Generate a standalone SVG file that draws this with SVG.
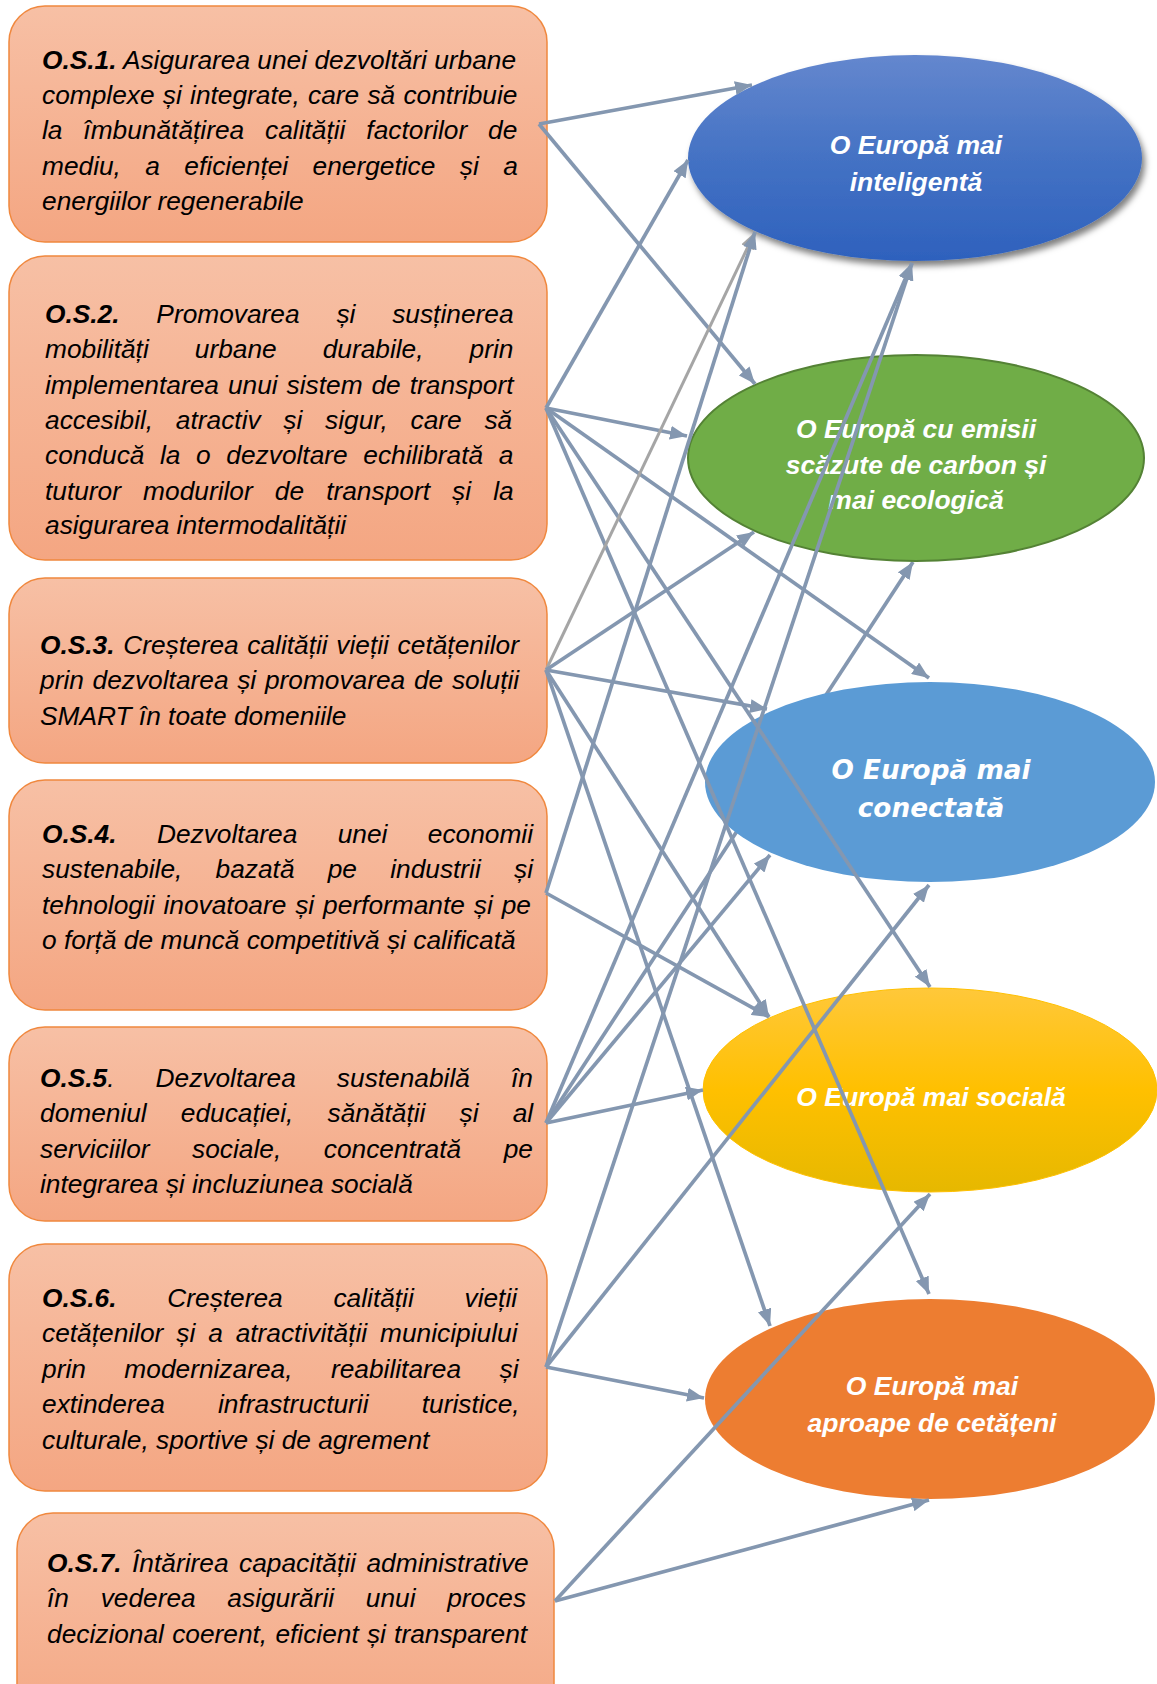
<svg xmlns="http://www.w3.org/2000/svg" width="1157" height="1684" viewBox="0 0 1157 1684">
<style>
.box{fill:url(#gBox);stroke:#F0883E;stroke-width:1.5}
.t{font-family:"Liberation Sans",Arial,sans-serif;font-size:26.3px;font-style:italic;fill:#000}
.b{font-weight:bold}
.e{font-family:"Liberation Sans",Arial,sans-serif;font-size:26.5px;font-style:italic;font-weight:bold;fill:#fff;text-anchor:middle}
.v{font-family:"DejaVu Sans",Verdana,sans-serif;font-size:26.3px;font-style:italic;font-weight:bold;fill:#fff;text-anchor:middle}
.c{stroke:#8497B0;stroke-width:3.7;fill:none;marker-end:url(#arr)}
.g{stroke:#A5A5A5;stroke-width:3;fill:none;marker-end:url(#arrg)}
</style>
<defs>
<linearGradient id="gBox" x1="0" y1="0" x2="0" y2="1">
<stop offset="0" stop-color="#F7C0A5"/><stop offset="1" stop-color="#F4A682"/>
</linearGradient>
<linearGradient id="gE1" x1="0" y1="0" x2="0" y2="1">
<stop offset="0" stop-color="#6487CE"/><stop offset="0.5" stop-color="#4472C4"/><stop offset="1" stop-color="#2E61BD"/>
</linearGradient>
<linearGradient id="gE4" x1="0" y1="0" x2="0" y2="1">
<stop offset="0" stop-color="#FFC83A"/><stop offset="0.5" stop-color="#FFC000"/><stop offset="1" stop-color="#E6B800"/>
</linearGradient>
<filter id="sh" x="-10%" y="-10%" width="125%" height="130%">
<feDropShadow dx="3" dy="5" stdDeviation="3" flood-color="#000" flood-opacity="0.5"/>
</filter>
<marker id="arr" markerUnits="userSpaceOnUse" markerWidth="17" markerHeight="14" viewBox="0 0 17 14" refX="17" refY="7" orient="auto">
<path d="M0,0 L17,7 L0,14 z" fill="#8497B0"/>
</marker>
<marker id="arrg" markerUnits="userSpaceOnUse" markerWidth="17" markerHeight="14" viewBox="0 0 17 14" refX="17" refY="7" orient="auto">
<path d="M0,0 L17,7 L0,14 z" fill="#A5A5A5"/>
</marker>
</defs>
<rect width="1157" height="1684" fill="#fff"/>

<g id="connectors-behind">
<line class="c" x1="546" y1="1123" x2="913" y2="562"/>
</g>

<g id="os1">
<rect class="box" x="9" y="6" width="538" height="236" rx="36"/>
<text class="t" x="42" y="69"><tspan class="b">O.S.1.</tspan> Asigurarea unei dezvoltări urbane</text>
<text class="t" x="42" y="104.2" word-spacing="0.96">complexe și integrate, care să contribuie</text>
<text class="t" x="42" y="139.4" word-spacing="13.6">la îmbunătățirea calității factorilor de</text>
<text class="t" x="42" y="174.6" word-spacing="17.1">mediu, a eficienței energetice și a</text>
<text class="t" x="42" y="209.8">energiilor regenerabile</text>
</g>
<g id="os2">
<rect class="box" x="9" y="256" width="538" height="304" rx="36"/>
<text class="t" x="45" y="323" word-spacing="29.5"><tspan class="b">O.S.2.</tspan> Promovarea și susținerea</text>
<text class="t" x="45" y="358" word-spacing="38.7">mobilități urbane durabile, prin</text>
<text class="t" x="45" y="393.5" word-spacing="1.65">implementarea unui sistem de transport</text>
<text class="t" x="45" y="429" word-spacing="15.4">accesibil, atractiv și sigur, care să</text>
<text class="t" x="45" y="464" word-spacing="8.3">conducă la o dezvoltare echilibrată a</text>
<text class="t" x="45" y="499.5" word-spacing="14.8">tuturor modurilor de transport și la</text>
<text class="t" x="45" y="534">asigurarea intermodalității</text>
</g>
<g id="os3">
<rect class="box" x="9" y="578" width="538" height="185" rx="36"/>
<text class="t" x="40" y="654" word-spacing="1.35"><tspan class="b">O.S.3.</tspan> Creșterea calității vieții cetățenilor</text>
<text class="t" x="40" y="689" word-spacing="1.4">prin dezvoltarea și promovarea de soluții</text>
<text class="t" x="40" y="724.5">SMART în toate domeniile</text>
</g>
<g id="os4">
<rect class="box" x="9" y="780" width="538" height="230" rx="36"/>
<text class="t" x="42" y="843" word-spacing="33.1"><tspan class="b">O.S.4.</tspan> Dezvoltarea unei economii</text>
<text class="t" x="42" y="878" word-spacing="25.9">sustenabile, bazată pe industrii și</text>
<text class="t" x="42" y="913.5" word-spacing="1.6">tehnologii inovatoare și performante și pe</text>
<text class="t" x="42" y="949">o forță de muncă competitivă și calificată</text>
</g>
<g id="os5">
<rect class="box" x="9" y="1027" width="538" height="194" rx="36"/>
<text class="t" x="40" y="1087" word-spacing="33.7"><tspan class="b">O.S.5</tspan>. Dezvoltarea sustenabilă în</text>
<text class="t" x="40" y="1122" word-spacing="26.8">domeniul educației, sănătății și al</text>
<text class="t" x="40" y="1157.5" word-spacing="35.2">serviciilor sociale, concentrată pe</text>
<text class="t" x="40" y="1193">integrarea și incluziunea socială</text>
</g>
<g id="os6">
<rect class="box" x="9" y="1244" width="538" height="247" rx="36"/>
<text class="t" x="42" y="1307" word-spacing="43.4"><tspan class="b">O.S.6.</tspan> Creșterea calității vieții</text>
<text class="t" x="42" y="1342" word-spacing="5.6">cetățenilor și a atractivității municipiului</text>
<text class="t" x="42" y="1377.5" word-spacing="31.2">prin modernizarea, reabilitarea și</text>
<text class="t" x="42" y="1413" word-spacing="45.9">extinderea infrastructurii turistice,</text>
<text class="t" x="42" y="1448.5">culturale, sportive și de agrement</text>
</g>
<g id="os7">
<rect class="box" x="17" y="1513" width="537" height="230" rx="36"/>
<text class="t" x="47" y="1572" word-spacing="3.2"><tspan class="b">O.S.7.</tspan> Întărirea capacității administrative</text>
<text class="t" x="47" y="1607" word-spacing="24.4">în vederea asigurării unui proces</text>
<text class="t" x="47" y="1643" word-spacing="0.9">decizional coerent, eficient și transparent</text>
</g>

<g id="eu1">
<ellipse cx="915" cy="158" rx="227" ry="103" fill="url(#gE1)" filter="url(#sh)"/>
<text class="e" x="916" y="154">O Europă mai</text>
<text class="e" x="916" y="191">inteligentă</text>
</g>
<g id="eu2">
<ellipse cx="916" cy="458" rx="228" ry="103" fill="#70AD47" stroke="#548235" stroke-width="2"/>
<text class="e" x="916" y="438">O Europă cu emisii</text>
<text class="e" x="916" y="473.5">scăzute de carbon și</text>
<text class="e" x="916" y="509">mai ecologică</text>
</g>
<g id="eu3">
<ellipse cx="930" cy="782" rx="225" ry="100" fill="#5B9BD5"/>
<text class="v" x="931" y="779">O Europă mai</text>
<text class="v" x="931" y="817">conectată</text>
</g>
<g id="eu4">
<ellipse cx="930" cy="1090" rx="227" ry="102" fill="url(#gE4)" stroke="#FFC000" stroke-width="1"/>
<text class="e" x="931" y="1106">O Europă mai socială</text>
</g>
<g id="eu5">
<ellipse cx="930" cy="1399" rx="225" ry="100" fill="#ED7D31"/>
<text class="e" x="932" y="1395">O Europă mai</text>
<text class="e" x="932" y="1432">aproape de cetățeni</text>
</g>

<g id="connectors">
<line class="c" x1="539" y1="124" x2="752" y2="85"/>
<line class="c" x1="539" y1="124" x2="755" y2="384"/>
<line class="c" x1="546" y1="408" x2="688" y2="160"/>
<line class="c" x1="546" y1="408" x2="687" y2="436"/>
<line class="c" x1="546" y1="408" x2="929" y2="678"/>
<line class="c" x1="546" y1="408" x2="930" y2="987"/>
<line class="c" x1="546" y1="408" x2="929" y2="1294"/>
<line class="g" x1="546" y1="670" x2="755" y2="232"/>
<line class="c" x1="546" y1="670" x2="754" y2="532"/>
<line class="c" x1="546" y1="670" x2="767" y2="709"/>
<line class="c" x1="546" y1="670" x2="769" y2="1017"/>
<line class="c" x1="546" y1="670" x2="770" y2="1326"/>
<line class="c" x1="546" y1="893" x2="755" y2="232"/>
<line class="c" x1="546" y1="893" x2="769" y2="1017"/>
<line class="c" x1="546" y1="1123" x2="912" y2="263"/>
<line class="c" x1="546" y1="1123" x2="770" y2="855"/>
<line class="c" x1="546" y1="1123" x2="703" y2="1090"/>
<line class="c" x1="546" y1="1367" x2="912" y2="263"/>
<line class="c" x1="546" y1="1367" x2="929" y2="885"/>
<line class="c" x1="546" y1="1367" x2="704" y2="1398"/>
<line class="c" x1="555" y1="1601" x2="930" y2="1194"/>
<line class="c" x1="555" y1="1601" x2="929" y2="1500"/>
</g>
</svg>
